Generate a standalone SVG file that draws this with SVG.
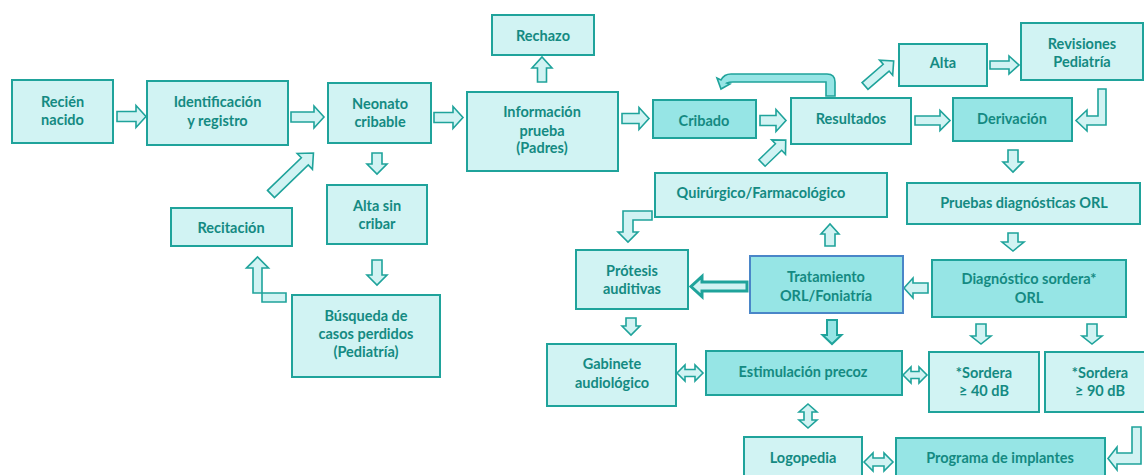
<svg xmlns="http://www.w3.org/2000/svg" width="1144" height="475" viewBox="0 0 1144 475">
<style>
  .box rect{fill:#D1F3F3;stroke:#1FA39B;stroke-width:2}
  .dark rect{fill:#96E5E5}
  .blue rect{stroke:#4A86C8}
  text{font-family:Lato,"Liberation Sans",sans-serif;font-weight:700;font-size:14.5px;fill:#148A82;text-anchor:middle}
  .arr path{fill:#D1F3F3;stroke:#1FA39B;stroke-width:1.6;stroke-linejoin:miter}
  .arr path.d{fill:#96E5E5}
  .arr path.thick{stroke-width:3}
</style>
<rect width="1144" height="475" fill="#FFFFFF"/>

<g class="arr" id="connectors">
  <path d="M117,111.5 H136 V105.5 L146,116.5 L136,127.5 V121.5 H117 Z"/>
  <path d="M291,112 H314 V106 L324,117 L314,128 V122 H291 Z"/>
  <path d="M434,112.5 H453 V106.5 L463,117.5 L453,128.5 V122.5 H434 Z"/>
  <path d="M622,113.5 H639 V107.5 L649,118.5 L639,129.5 V123.5 H622 Z"/>
  <path d="M760,115.5 H776 V109.5 L786,120.5 L776,131.5 V125.5 H760 Z"/>
  <path d="M915,116 H940 V110.5 L950,120.5 L940,130.5 V125 H915 Z"/>
  <path d="M990,61 H1009 V56 L1019,65 L1009,74 V69 H990 Z"/>
  <path d="M537.5,82 V68 H532 L542,57 L552,68 H546.5 V82 Z"/>
  <path d="M825,246 V234 H821 L830,224 L839,234 H835 V246 Z"/>
  <path d="M1008,150 H1018 V162 H1023 L1013,172 L1003,162 H1008 Z"/>
  <path d="M1008,233 H1018 V242 H1024 L1013,251 L1002,242 H1008 Z"/>
  <path d="M626,318 H636 V326 H640 L631,335 L622,326 H626 Z"/>
  <path class="d" d="M827,320 H837 V335 H841.5 L832,344 L822.5,335 H827 Z" style="stroke-width:2"/>
  <path d="M976,324 H986 V336 H991 L981,344 L971,336 H976 Z"/>
  <path d="M1087,324 H1097 V336 H1102 L1092,344 L1082,336 H1087 Z"/>
  <path d="M372,153 H382 V164 H387 L377,174 L367,164 H372 Z"/>
  <path d="M372,260 H382 V275 H387 L377,285 L367,275 H372 Z"/>
  <path d="M928,283 H913 V278 L904,288 L913,298 V293 H928 Z"/>
  <path class="thick" d="M747,282 H702 V276.5 L691,286.5 L702,296.5 V291 H747 Z"/>
  <path d="M677,373 L685,365 V369.5 H695 V365 L703,373 L695,381 V376.5 H685 V381 Z"/>
  <path d="M864,462 L873,453 V458 H884 V453 L893,462 L884,471 V466 H873 V471 Z"/>
  <path d="M903,375 L911,367 V371.5 H919 V367 L927,375 L919,383 V378.5 H911 V383 Z"/>
  <path d="M808,404 L817,412 H812 V420 H817 L808,428 L799,420 H804 V412 H799 Z"/>
  <path d="M0,-4.5 H23 V-10 L33,0 L23,10 V4.5 H0 Z" transform="translate(762,163) rotate(-44)"/>
  <path d="M0,-4.5 H28 V-10 L38,0 L28,10 V4.5 H0 Z" transform="translate(865,86) rotate(-41)"/>
  <path d="M0,-5 H47 V-11 L59,0 L47,11 V5 H0 Z" transform="translate(271,194) rotate(-44)"/>
  <path d="M1106,89 V125 H1087 V131 L1076,120.5 L1087,110 V116 H1098 V89 Z"/>
  <path d="M1141,427 V464 H1117 V470 L1108,458.5 L1117,447 V453 H1132 V427 Z"/>
  <path d="M652,211 V220 H633 V232 H638 L628,242 L618,232 H623 V211 Z"/>
  <path d="M286,293 V302 H262 V268 H268.5 L257.5,257 L246.5,268 H253 V293 Z"/>
  <path class="d" d="M835,96 V82 Q835,74 827,74 H731 Q724,74 721,80 L717,78 L721,89 L730,84 L727,83 Q729,82 733,82 H826 V96 Z"/>
</g>

<g id="recien" class="box"><rect x="12" y="80" width="101" height="63"/><text x="62.5" y="107">Recién</text><text x="62.5" y="125">nacido</text></g>
<g id="identificacion" class="box"><rect x="147" y="81" width="141" height="64"/><text x="217.5" y="107">Identificación</text><text x="217.5" y="126">y registro</text></g>
<g id="neonato" class="box"><rect x="328" y="83" width="103" height="60"/><text x="380" y="109">Neonato</text><text x="380" y="127">cribable</text></g>
<g id="informacion" class="box"><rect x="467" y="92" width="151" height="79"/><text x="542" y="117">Información</text><text x="542" y="136">prueba</text><text x="542" y="153">(Padres)</text></g>
<g id="rechazo" class="box"><rect x="492" y="15" width="102" height="40"/><text x="543" y="41">Rechazo</text></g>
<g id="cribado" class="box dark"><rect x="653" y="100" width="103" height="38"/><text x="704" y="126">Cribado</text></g>
<g id="resultados" class="box"><rect x="791" y="98" width="120" height="46"/><text x="851" y="124">Resultados</text></g>
<g id="alta" class="box"><rect x="899" y="44" width="88" height="42"/><text x="943" y="68">Alta</text></g>
<g id="revisiones" class="box"><rect x="1021" y="23" width="122" height="57"/><text x="1082" y="49">Revisiones</text><text x="1082" y="67">Pediatría</text></g>
<g id="derivacion" class="box dark"><rect x="953" y="98" width="119" height="43"/><text x="1012" y="124">Derivación</text></g>
<g id="pruebas" class="box"><rect x="907" y="183" width="233" height="41"/><text x="1024" y="208">Pruebas diagnósticas ORL</text></g>
<g id="diagnostico" class="box dark"><rect x="932" y="260" width="194" height="57"/><text x="1029" y="284">Diagnóstico sordera*</text><text x="1029" y="303">ORL</text></g>
<g id="tratamiento" class="box dark blue"><rect x="750" y="256" width="153" height="57"/><text x="826" y="282">Tratamiento</text><text x="826" y="301">ORL/Foniatría</text></g>
<g id="quirurgico" class="box"><rect x="655" y="173" width="232" height="44"/><text x="761" y="198">Quirúrgico/Farmacológico</text></g>
<g id="protesis" class="box"><rect x="576" y="250" width="112" height="59"/><text x="632" y="276">Prótesis</text><text x="632" y="294">auditivas</text></g>
<g id="gabinete" class="box"><rect x="547" y="344" width="129" height="62"/><text x="612" y="369">Gabinete</text><text x="612" y="388">audiológico</text></g>
<g id="estimulacion" class="box dark"><rect x="706" y="351" width="196" height="44"/><text x="803" y="377">Estimulación precoz</text></g>
<g id="logopedia" class="box"><rect x="744" y="437" width="118" height="45"/><text x="803" y="463">Logopedia</text></g>
<g id="programa" class="box dark"><rect x="896" y="438" width="209" height="45"/><text x="1000" y="463">Programa de implantes</text></g>
<g id="sordera40" class="box"><rect x="929" y="352" width="110" height="60"/><text x="984" y="378">*Sordera</text><text x="984" y="396">≥ 40 dB</text></g>
<g id="sordera90" class="box"><rect x="1045" y="352" width="105" height="60"/><text x="1100" y="378">*Sordera</text><text x="1100" y="396">≥ 90 dB</text></g>
<g id="altasin" class="box"><rect x="327" y="185" width="100" height="59"/><text x="377" y="211">Alta sin</text><text x="377" y="229">cribar</text></g>
<g id="busqueda" class="box"><rect x="292" y="295" width="148" height="82"/><text x="366" y="321">Búsqueda de</text><text x="366" y="339">casos perdidos</text><text x="366" y="357">(Pediatría)</text></g>
<g id="recitacion" class="box"><rect x="171" y="208" width="121" height="38"/><text x="231" y="233">Recitación</text></g>
</svg>
